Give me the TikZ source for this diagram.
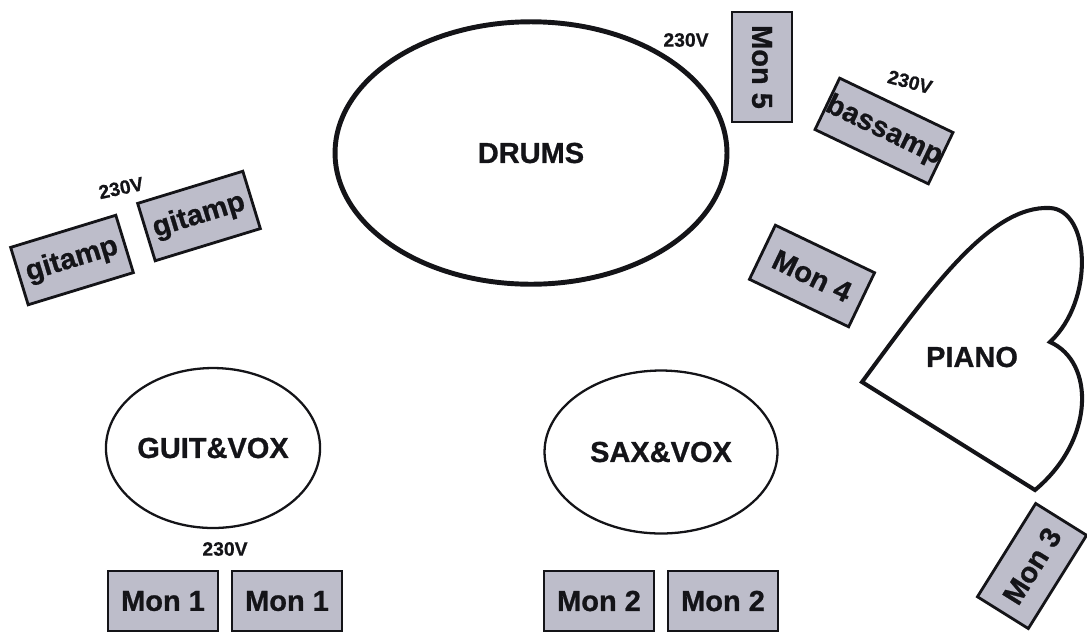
\documentclass[tikz,border=0pt]{standalone}
\usepackage{fontspec}
\setmainfont{Liberation Sans}[BoldFeatures={FakeBold=0.8}]
\usetikzlibrary{shapes.geometric}
\definecolor{boxgray}{HTML}{BDBDCA}
\definecolor{inkblack}{HTML}{141418}

\begin{document}
\begin{tikzpicture}[x=0.02cm, y=-0.02cm]
\tikzstyle{gearbox} = [rectangle, minimum width=2.2cm, minimum height=1.2cm, inner sep=0pt, draw=inkblack, line width=1.6pt, fill=boxgray, text=inkblack, font=\fontsize{16.5}{19}\selectfont\bfseries]
\tikzstyle{stagearea} = [ellipse, draw=inkblack, line width=1.3pt, inner sep=0pt, text=inkblack, font=\fontsize{16.5}{19}\selectfont\bfseries]
\tikzstyle{power} = [inner sep=0pt, text=inkblack, font=\fontsize{11}{13}\selectfont\bfseries]

\useasboundingbox (0,0) rectangle (1087,633);

% players
\node (drums) [stagearea, line width=2.8pt, minimum width=7.84cm, minimum height=5.25cm] at (531,153) {DRUMS};
\node (guitvox) [stagearea, minimum width=4.2cm, minimum height=3.2cm] at (213,448) {GUIT\&VOX};
\node (saxvox) [stagearea, minimum width=4.66cm, minimum height=3.26cm] at (661,452) {SAX\&VOX};

% piano
\coordinate (pianoleft) at (862,382);
\coordinate (pianotop) at (1050,208);
\coordinate (pianonotch) at (1050,342);
\coordinate (pianobottom) at (1035,490);
\draw[line width=2.3pt, draw=inkblack, line join=miter]
  (pianoleft) .. controls (930,290) and (990,205) .. (pianotop)
  .. controls (1090,210) and (1095,300) .. (pianonotch)
  .. controls (1095,362) and (1095,440) .. (pianobottom) -- cycle;
\node (piano) [text=inkblack, font=\fontsize{16.5}{19}\selectfont\bfseries] at (972,357) {PIANO};

% amps
\node (gitamp1) [gearbox, rotate=17] at (72,260) {gitamp};
\node (gitamp2) [gearbox, rotate=17] at (199,216) {gitamp};
\node (bassamp) [gearbox, rotate=-25.6, minimum height=1.14cm] at (884,131) {bassamp};

% monitors
\node (mon1a) [gearbox] at (163,601) {Mon 1};
\node (mon1b) [gearbox] at (287,601) {Mon 1};
\node (mon2a) [gearbox] at (599,601) {Mon 2};
\node (mon2b) [gearbox] at (723,601) {Mon 2};
\node (mon3) [gearbox, rotate=58] at (1032,566) {Mon 3};
\node (mon4) [gearbox, rotate=-25.6] at (812,276) {Mon 4};
\node (mon5) [gearbox, rotate=-90] at (762,67) {Mon 5};

% power
\node (pwrgit) [power, rotate=12] at (121,188) {230V};
\node (pwrdrums) [power] at (686,40) {230V};
\node (pwrbass) [power, rotate=-15] at (910,82) {230V};
\node (pwrguit) [power] at (225,549) {230V};

\end{tikzpicture}
\end{document}
